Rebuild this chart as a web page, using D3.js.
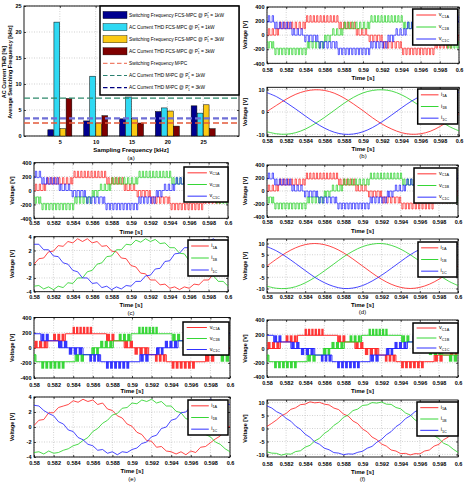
<!DOCTYPE html>
<html>
<head>
<meta charset="utf-8">
<script src="https://cdn.jsdelivr.net/npm/d3@7"></script>
<style>
  body { margin: 0; background: #fff; }
  text { font-family: "Liberation Sans", Arial, sans-serif; }
</style>
</head>
<body>
<script>
// ---------- panel (a) data ----------
const sampFreq = [5, 10, 15, 20, 25];
const swFreqFcs1kW = [1.2, 2.9, 3.3, 4.7, 5.8];
const thdFcs1kW = [21.9, 11.5, 7.5, 5.4, 4.4];
const swFreqFcs3kW = [1.4, 2.5, 3.4, 4.8, 6.0];
const thdFcs3kW = [7.2, 3.9, 2.5, 1.9, 1.4];
const refM2pc = [2.5, 7.3, 3.4];   // sw freq M2PC, THD M2PC 1kW, THD M2PC 3kW
const aYTicks = [0, 5, 10, 15, 20, 25];
const legendLabels = [
  ["Switching Frequency FCS-MPC @ ", " = 1kW"],
  ["AC Current THD FCS-MPC @ ", " = 1kW"],
  ["Switching Frequency FCS-MPC @ ", " = 3kW"],
  ["AC Current THD FCS-MPC @ ", " = 3kW"],
  ["Switching Frequency M\u00B2PC"],
  ["AC Current THD M\u00B2PC @ ", " = 1kW"],
  ["AC Current THD M\u00B2PC @ ", " = 3kW"]
];

// ---------- waveform data ----------
const timeTicks = [0.58, 0.582, 0.584, 0.586, 0.588, 0.59, 0.592, 0.594, 0.596, 0.598, 0.6];
const timeTickLabels = ["0.58", "0.582", "0.584", "0.586", "0.588", "0.59", "0.592", "0.594", "0.596", "0.598", "0.6"];
const voltTicks = [-400, -200, 0, 200, 400];
const vNames = ["C1A", "C1B", "C1C"];
const iNames = ["1A", "1B", "1C"];

const time21 = [0.58, 0.581, 0.582, 0.583, 0.584, 0.585, 0.586, 0.587, 0.588, 0.589, 0.59,
  0.591, 0.592, 0.593, 0.594, 0.595, 0.596, 0.597, 0.598, 0.599, 0.6];
const time41 = [0.58, 0.5805, 0.581, 0.5815, 0.582, 0.5825, 0.583, 0.5835, 0.584, 0.5845, 0.585,
  0.5855, 0.586, 0.5865, 0.587, 0.5875, 0.588, 0.5885, 0.589, 0.5895, 0.59,
  0.5905, 0.591, 0.5915, 0.592, 0.5925, 0.593, 0.5935, 0.594, 0.5945, 0.595,
  0.5955, 0.596, 0.5965, 0.597, 0.5975, 0.598, 0.5985, 0.599, 0.5995, 0.6];

// voltage segments: [t start, t end, level low, level high, pulse count]
const vDenseA = [[0.5800, 0.5812, 0, 92, 3], [0.5812, 0.5840, 92, 185, 7], [0.5840, 0.5875, 185, 277, 10],
  [0.5875, 0.5893, 92, 185, 5], [0.5893, 0.5905, 0, 92, 3], [0.5905, 0.5920, -92, 0, 4],
  [0.5920, 0.5940, -185, -92, 5], [0.5940, 0.5975, -277, -185, 10], [0.5975, 0.5993, -185, -92, 5],
  [0.5993, 0.6000, -92, 0, 2]];
const vDenseB = [[0.5800, 0.5807, -185, -92, 2], [0.5807, 0.5842, -277, -185, 10], [0.5842, 0.5860, -185, -92, 5],
  [0.5860, 0.5867, -92, 0, 2], [0.5867, 0.5879, 0, 92, 3], [0.5879, 0.5907, 92, 185, 7],
  [0.5907, 0.5942, 185, 277, 10], [0.5942, 0.5960, 92, 185, 5], [0.5960, 0.5972, 0, 92, 3],
  [0.5972, 0.5987, -92, 0, 4], [0.5987, 0.6000, -185, -92, 4]];
const vDenseC = [[0.5800, 0.5808, 185, 277, 2], [0.5808, 0.5826, 92, 185, 5], [0.5826, 0.5838, 0, 92, 3],
  [0.5838, 0.5853, -92, 0, 4], [0.5853, 0.5873, -185, -92, 5], [0.5873, 0.5908, -277, -185, 10],
  [0.5908, 0.5926, -185, -92, 5], [0.5926, 0.5933, -92, 0, 2], [0.5933, 0.5945, 0, 92, 3],
  [0.5945, 0.5973, 92, 185, 7], [0.5973, 0.6000, 185, 277, 8]];

const vBlockA = [[0.5800, 0.5814, 0, 92, 3], [0.5814, 0.5819, 92, 92, 0], [0.5819, 0.5832, 92, 185, 3],
  [0.5832, 0.5839, 185, 185, 0], [0.5839, 0.5860, 185, 277, 6], [0.5860, 0.5874, 185, 185, 0],
  [0.5874, 0.5883, 92, 185, 2], [0.5883, 0.5892, 92, 92, 0], [0.5892, 0.5902, 0, 92, 2],
  [0.5902, 0.5917, -92, 0, 3], [0.5917, 0.5923, -92, -92, 0], [0.5923, 0.5935, -185, -92, 3],
  [0.5935, 0.5940, -185, -185, 0], [0.5940, 0.5965, -277, -185, 6], [0.5965, 0.5975, -185, -185, 0],
  [0.5975, 0.5985, -185, -92, 2], [0.5985, 0.5992, -92, -92, 0], [0.5992, 0.6000, -92, 0, 2]];
const vBlockB = [[0.5800, 0.5802, -185, -92, 1], [0.5802, 0.5807, -185, -185, 0], [0.5807, 0.5832, -277, -185, 6],
  [0.5832, 0.5842, -185, -185, 0], [0.5842, 0.5852, -185, -92, 2], [0.5852, 0.5859, -92, -92, 0],
  [0.5859, 0.5867, -92, 0, 2], [0.5867, 0.5881, 0, 92, 3], [0.5881, 0.5886, 92, 92, 0],
  [0.5886, 0.5899, 92, 185, 3], [0.5899, 0.5906, 185, 185, 0], [0.5906, 0.5927, 185, 277, 6],
  [0.5927, 0.5941, 185, 185, 0], [0.5941, 0.5950, 92, 185, 2], [0.5950, 0.5959, 92, 92, 0],
  [0.5959, 0.5969, 0, 92, 2], [0.5969, 0.5984, -92, 0, 3], [0.5984, 0.5990, -92, -92, 0],
  [0.5990, 0.6000, -185, -92, 2]];
const vBlockC = [[0.5800, 0.5807, 185, 185, 0], [0.5807, 0.5816, 92, 185, 2], [0.5816, 0.5825, 92, 92, 0],
  [0.5825, 0.5835, 0, 92, 2], [0.5835, 0.5850, -92, 0, 3], [0.5850, 0.5856, -92, -92, 0],
  [0.5856, 0.5868, -185, -92, 3], [0.5868, 0.5873, -185, -185, 0], [0.5873, 0.5898, -277, -185, 6],
  [0.5898, 0.5908, -185, -185, 0], [0.5908, 0.5918, -185, -92, 2], [0.5918, 0.5925, -92, -92, 0],
  [0.5925, 0.5933, -92, 0, 2], [0.5933, 0.5947, 0, 92, 3], [0.5947, 0.5952, 92, 92, 0],
  [0.5952, 0.5965, 92, 185, 3], [0.5965, 0.5972, 185, 185, 0], [0.5972, 0.5993, 185, 277, 6],
  [0.5993, 0.6000, 185, 185, 0]];

// currents
const iA_b = [0.2, 3.0, 5.7, 7.9, 9.3, 9.9, 9.6, 8.4, 6.3, 3.6, 0.6, -2.6, -5.4, -7.6, -9.2, -9.9, -9.7, -8.6, -6.5, -3.8, -0.8];
const iB_b = [-8.8, -9.7, -9.9, -9.2, -7.6, -5.2, -2.4, 0.7, 3.8, 6.5, 8.5, 9.6, 9.9, 9.3, 7.7, 5.3, 2.4, -0.7, -3.8, -6.5, -8.4];
const iC_b = [8.6, 6.8, 4.2, 1.3, -1.8, -4.7, -7.2, -9.0, -9.9, -9.8, -8.8, -6.9, -4.3, -1.3, 1.8, 4.7, 7.1, 9.0, 9.9, 9.8, 8.7];

const iA_c = [0.0, 0.8, 0.9, 1.8, 1.9, 2.7, 2.6, 3.3, 3.1, 3.7, 3.3, 3.7, 3.1, 3.3, 2.6, 2.7, 1.9, 1.8, 0.9, 0.8, -0.2,
  -0.4, -1.3, -1.4, -2.3, -2.3, -3.0, -2.9, -3.5, -3.3, -3.7, -3.3, -3.5, -2.9, -3.0, -2.3, -2.3, -1.4, -1.3, -0.4, -0.2];
const iB_c = [-3.2, -3.1, -3.6, -3.3, -3.7, -3.2, -3.4, -2.7, -2.8, -2.0, -2.0, -1.1, -0.9, 0.0, 0.2, 1.1, 1.2, 2.1, 2.1, 2.9, 2.8,
  3.5, 3.2, 3.7, 3.3, 3.6, 3.0, 3.1, 2.4, 2.4, 1.6, 1.5, 0.5, 0.4, -0.6, -0.7, -1.6, -1.7, -2.5, -2.5, -3.2];
const iC_c = [2.9, 2.9, 2.1, 2.1, 1.2, 1.1, 0.2, 0.0, -0.9, -1.1, -2.0, -2.0, -2.8, -2.7, -3.4, -3.2, -3.7, -3.3, -3.6, -3.1, -3.2,
  -2.5, -2.5, -1.7, -1.6, -0.7, -0.6, 0.4, 0.5, 1.5, 1.6, 2.4, 2.4, 3.1, 3.0, 3.6, 3.3, 3.7, 3.2, 3.5, 2.8];

const iA_d = [0.0, 3.1, 5.9, 8.1, 9.5, 10.0, 9.5, 8.1, 5.9, 3.1, 0.0, -3.1, -5.9, -8.1, -9.5, -10.0, -9.5, -8.1, -5.9, -3.1, 0.0];
const iB_d = [-9.0, -9.9, -10.0, -9.2, -7.5, -5.1, -2.2, 0.9, 4.0, 6.6, 8.6, 9.7, 10.0, 9.2, 7.5, 5.0, 2.1, -1.0, -4.0, -6.7, -8.7];
const iC_d = [8.6, 6.7, 4.1, 1.1, -2.0, -5.0, -7.4, -9.1, -10.0, -9.8, -8.7, -6.7, -4.1, -1.1, 2.0, 5.0, 7.4, 9.1, 10.0, 9.8, 8.6];

const iA_e = [0.2, 0.9, 1.0, 1.9, 1.9, 2.6, 2.8, 3.0, 3.5, 3.3, 3.7, 3.4, 3.6, 3.0, 3.2, 2.4, 2.2, 1.5, 1.2, 0.4, 0.1,
  -0.7, -1.0, -1.8, -1.9, -2.7, -2.6, -3.2, -3.3, -3.6, -3.3, -3.7, -3.2, -3.4, -2.7, -2.6, -2.1, -1.6, -1.2, -0.3, 0.1];
const iB_e = [-3.4, -3.3, -3.6, -3.2, -3.5, -3.4, -3.1, -2.9, -2.5, -2.3, -1.8, -1.4, -0.6, -0.2, 0.5, 0.9, 1.6, 1.8, 2.5, 2.6, 3.2,
  3.1, 3.6, 3.4, 3.7, 3.2, 3.4, 2.8, 2.8, 2.1, 1.9, 1.1, 1.0, 0.1, -0.3, -1.0, -1.3, -2.0, -2.3, -2.9, -3.3];
const iC_e = [2.9, 2.8, 2.2, 1.8, 1.5, 0.7, 0.4, -0.4, -0.6, -1.4, -1.7, -2.3, -2.5, -3.1, -3.0, -3.5, -3.3, -3.7, -3.3, -3.4, -3.0,
  -2.8, -2.2, -2.0, -1.3, -1.1, -0.2, 0.0, 0.9, 1.1, 1.9, 2.0, 2.8, 2.7, 3.3, 3.2, 3.7, 3.3, 3.6, 3.1, 3.0];

const iA_f = [0.8, 2.0, 3.3, 4.9, 5.8, 7.4, 8.0, 9.2, 9.4, 10.3, 9.9, 10.1, 9.4, 9.1, 7.9, 7.3, 5.6, 4.8, 2.9, 1.9, -0.2,
  -1.3, -3.3, -4.3, -6.0, -6.8, -8.3, -8.7, -9.7, -9.6, -10.2, -9.7, -9.8, -8.7, -8.3, -6.8, -6.1, -4.3, -3.3, -1.3, 0.3];
const iB_f = [-9.0, -9.5, -9.6, -10.3, -9.8, -9.9, -8.9, -8.6, -7.2, -6.5, -4.8, -3.8, -1.9, -0.7, 1.2, 2.4, 4.3, 5.2, 6.9, 7.5, 8.9,
  9.1, 10.0, 9.8, 10.2, 9.4, 9.3, 8.1, 7.6, 6.0, 5.2, 3.3, 2.3, 0.3, -0.8, -2.8, -3.9, -5.7, -6.5, -8.0, -9.2];
const iC_f = [8.7, 7.9, 6.5, 5.6, 3.9, 2.8, 0.9, -0.3, -2.2, -3.4, -5.2, -6.1, -7.6, -8.2, -9.3, -9.5, -10.1, -9.8, -9.9, -9.2, -8.8,
  -7.6, -6.9, -5.3, -4.2, -2.4, -1.2, 0.7, 1.9, 3.8, 4.9, 6.5, 7.3, 8.6, 9.0, 9.8, 9.8, 10.1, 9.6, 9.5, 8.5];

// ---------- setup ----------
const W = 467, H = 486;
const svg = d3.select("body").append("svg").attr("width", W).attr("height", H);
svg.append("rect").attr("width", W).attr("height", H).attr("fill", "#fff");

const phaseColors = ["#ff1a1a", "#1fd11f", "#1a1aff"];
const tickFs = 5.5;
let clipId = 0;

function label(g, x, y, txt, fs, opts = {}) {
  const t = g.append("text").attr("x", x).attr("y", y + fs * 0.35)
    .attr("text-anchor", "middle").attr("font-size", fs)
    .attr("font-weight", opts.bold ? "bold" : "normal").text(txt);
  if (opts.rotate) t.attr("transform", `rotate(-90,${x},${y})`);
  return t;
}

// axes with inward ticks, dotted grid, frame
function axesBox(g, x, y, xt, xfmt, yt, tickY) {
  const [xa, xb] = x.range();
  const [yb, ya] = y.range();
  const grid = g.append("g").attr("stroke", "#b4b4b4").attr("stroke-width", 0.6).attr("stroke-dasharray", "1,1.5");
  grid.selectAll(null).data(xt).join("line")
    .attr("x1", d => x(d)).attr("x2", d => x(d)).attr("y1", ya).attr("y2", yb);
  grid.selectAll(null).data(yt).join("line")
    .attr("x1", xa).attr("x2", xb).attr("y1", d => y(d)).attr("y2", d => y(d));

  const bottom = g.append("g").attr("transform", `translate(0,${yb})`)
    .call(d3.axisBottom(x).tickValues(xt).tickFormat((d, i) => xfmt[i])
      .tickSizeInner(-2).tickSizeOuter(0).tickPadding(tickY - yb - tickFs * 0.36));
  const left = g.append("g").attr("transform", `translate(${xa},0)`)
    .call(d3.axisLeft(y).tickValues(yt).tickFormat(d => String(d))
      .tickSizeInner(-2).tickSizeOuter(0).tickPadding(2.5));
  const top = g.append("g").attr("transform", `translate(0,${ya})`)
    .call(d3.axisTop(x).tickValues(xt).tickFormat("").tickSizeInner(-2).tickSizeOuter(0));
  const right = g.append("g").attr("transform", `translate(${xb},0)`)
    .call(d3.axisRight(y).tickValues(yt).tickFormat("").tickSizeInner(-2).tickSizeOuter(0));
  [bottom, left, top, right].forEach(a => {
    a.select(".domain").remove();
    a.selectAll("text").attr("font-size", tickFs).attr("font-weight", "bold")
      .attr("font-family", '"Liberation Sans", Arial, sans-serif').attr("fill", "#000");
    a.selectAll("line").attr("stroke", "#000").attr("stroke-width", 0.7);
  });
  g.append("rect").attr("x", xa).attr("y", ya).attr("width", xb - xa).attr("height", yb - ya)
    .attr("fill", "none").attr("stroke", "#000").attr("stroke-width", 0.9);
}

function clipFor(g, x, y) {
  const id = "clip" + (clipId++);
  const [xa, xb] = x.range();
  const [yb, ya] = y.range();
  svg.append("clipPath").attr("id", id).append("rect")
    .attr("x", xa).attr("y", ya).attr("width", xb - xa).attr("height", yb - ya);
  return g.append("g").attr("clip-path", `url(#${id})`);
}

// ---------- panel (a) ----------
const gA = svg.append("g");
const xA = d3.scaleLinear().domain([0, 30]).range([24, 239]);
const yA = d3.scaleLinear().domain([0, 25]).range([136, 6]);
axesBox(gA, xA, yA, sampFreq, sampFreq.map(String), aYTicks, 142);

const barSeries = [swFreqFcs1kW, thdFcs1kW, swFreqFcs3kW, thdFcs3kW];
const barColors = ["#00008f", "#2fd9f3", "#fcca14", "#7f0000"];
const sub = d3.scaleBand().domain(d3.range(barSeries.length)).range([-12, 12]).paddingInner(0.06);
barSeries.forEach((s, si) => {
  gA.selectAll(null).data(s).join("rect")
    .attr("x", (d, i) => xA(sampFreq[i]) + sub(si))
    .attr("width", sub.bandwidth())
    .attr("y", d => yA(d))
    .attr("height", d => yA(0) - yA(d))
    .attr("fill", barColors[si]).attr("stroke", "#000").attr("stroke-width", 0.5);
});

const refColors = ["#e4593a", "#2f8a6c", "#6f6fd6"];
const refWidths = [1.4, 1.2, 2.2];
gA.selectAll(null).data(refM2pc).join("line")
  .attr("x1", xA(0)).attr("x2", xA(30))
  .attr("y1", d => yA(d)).attr("y2", d => yA(d))
  .attr("stroke", (d, i) => refColors[i]).attr("stroke-width", (d, i) => refWidths[i])
  .attr("stroke-dasharray", "6,3");

// legend (a)
const legA = gA.append("g");
legA.append("rect").attr("x", 100).attr("y", 6).attr("width", 139).attr("height", 89)
  .attr("fill", "#fff").attr("stroke", "#000").attr("stroke-width", 1.5);
const legSwatch = ["#00008f", "#2fd9f3", "#fcca14", "#7f0000", "#f07f6a", "#2a8070", "#000080"];
legendLabels.forEach((lab, i) => {
  const yy = 15 + i * 12.1;
  if (i < 4) {
    legA.append("rect").attr("x", 103).attr("y", yy - 3.6).attr("width", 24).attr("height", 7.2)
      .attr("fill", legSwatch[i]).attr("stroke", "#000").attr("stroke-width", 0.4);
  } else {
    legA.append("line").attr("x1", 103).attr("x2", 127).attr("y1", yy).attr("y2", yy)
      .attr("stroke", legSwatch[i]).attr("stroke-width", 1.1).attr("stroke-dasharray", "4.5,2.5");
  }
  const t = legA.append("text").attr("x", 129).attr("y", yy + 1.7).attr("font-size", 4.8);
  t.append("tspan").text(lab[0]);
  if (lab.length > 1) {
    t.append("tspan").text("P");
    t.append("tspan").attr("font-size", 3.4).attr("dy", -1.8).text("*");
    t.append("tspan").attr("font-size", 3.4).attr("dx", -1.7).attr("dy", 3.2).text("1");
    t.append("tspan").attr("dy", -1.4).text(lab[1]);
  }
});

label(gA, 4.5, 72, "AC Current THD [%]", 5.5, { bold: true, rotate: true });
label(gA, 10.5, 72, "Average Switching Frequency [kHz]", 5.5, { bold: true, rotate: true });
label(gA, 131, 150, "Sampling Frequency [kHz]", 6, { bold: true });
label(gA, 131, 158, "(a)", 6);

// ---------- waveform panels ----------
const panels = [
  { cap: "(b)", x0: 267, x1: 459, ylabX: 245, capY: 155.5,
    v: { y0: 7, y1: 63.3, tickY: 70, timeY: 78, leg: [412.7, 457.7, 9, 45] },
    i: { y0: 87.3, y1: 136.7, dom: [-11, 11], ticks: [-10, 0, 10], tickY: 141, timeY: 149, leg: [417.7, 457.7, 89, 124] },
    volt: [vDenseA, vDenseB, vDenseC], blocks: false, cur: [iA_b, iB_b, iC_b], tCur: time21, smooth: true },
  { cap: "(c)", x0: 34, x1: 228, ylabX: 12.5, capY: 313,
    v: { y0: 162.7, y1: 218.3, tickY: 223.5, timeY: 232, leg: [184, 228, 167, 202] },
    i: { y0: 236.7, y1: 291.7, dom: [-4, 4], ticks: [-4, -2, 0, 2, 4], tickY: 297, timeY: 305, leg: [188, 228, 240, 276] },
    volt: [vDenseA, vDenseB, vDenseC], blocks: false, cur: [iA_c, iB_c, iC_c], tCur: time41, smooth: false },
  { cap: "(d)", x0: 267, x1: 458, ylabX: 245, capY: 312,
    v: { y0: 165, y1: 217, tickY: 222.3, timeY: 231, leg: [414, 457, 168, 203] },
    i: { y0: 239, y1: 293, dom: [-12, 12], ticks: [-10, -5, 0, 5, 10], tickY: 297.5, timeY: 304.5, leg: [418, 457, 242, 277] },
    volt: [vDenseA, vDenseB, vDenseC], blocks: false, cur: [iA_d, iB_d, iC_d], tCur: time21, smooth: true },
  { cap: "(e)", x0: 34, x1: 230, ylabX: 12.5, capY: 479,
    v: { y0: 317.5, y1: 378, tickY: 385, timeY: 391, leg: [183, 229, 322, 355] },
    i: { y0: 397, y1: 457, dom: [-4, 4], ticks: [-4, -2, 0, 2, 4], tickY: 462.7, timeY: 471, leg: [188, 228, 400, 435] },
    volt: [vBlockA, vBlockB, vBlockC], blocks: true, cur: [iA_e, iB_e, iC_e], tCur: time41, smooth: false },
  { cap: "(f)", x0: 267, x1: 458, ylabX: 245, capY: 479,
    v: { y0: 320, y1: 377, tickY: 383, timeY: 390.7, leg: [413, 458, 323, 353] },
    i: { y0: 400, y1: 457, dom: [-11, 11], ticks: [-10, -5, 0, 5, 10], tickY: 464, timeY: 472, leg: [417, 458, 402, 436] },
    volt: [vBlockA, vBlockB, vBlockC], blocks: true, cur: [iA_f, iB_f, iC_f], tCur: time41, smooth: false }
];

function innerLevel(s) { return Math.abs(s[2]) <= Math.abs(s[3]) ? s[2] : s[3]; }
function outerLevel(s) { return Math.abs(s[2]) <= Math.abs(s[3]) ? s[3] : s[2]; }

// pulse train for one segment list (narrow pulses from the inner level outward)
function densePoints(segs) {
  const pts = [];
  segs.forEach(s => {
    const [t0, t1, , , n] = s;
    const p = (t1 - t0) / Math.max(n, 1);
    pts.push([t0, innerLevel(s)]);
    for (let k = 0; k < n; k++) {
      pts.push([t0 + (k + 0.35) * p, outerLevel(s)]);
      pts.push([t0 + (k + 0.7) * p, innerLevel(s)]);
    }
  });
  const last = segs[segs.length - 1];
  pts.push([last[1], innerLevel(last)]);
  return pts;
}
function stairPoints(segs) {
  const pts = segs.map(s => [s[0], innerLevel(s)]);
  const last = segs[segs.length - 1];
  pts.push([last[1], innerLevel(last)]);
  return pts;
}
function bursts(segs) {
  const out = [];
  segs.forEach(s => {
    const [t0, t1, lo, hi, n] = s;
    const p = (t1 - t0) / Math.max(n, 1);
    for (let k = 0; k < n; k++) out.push({ a: t0 + (k + 0.1) * p, b: t0 + (k + 0.8) * p, lo, hi });
  });
  return out;
}

function legendBox(g, box, prefix, names) {
  const [lx0, lx1, ly0, ly1] = box;
  const w = lx1 - lx0, h = ly1 - ly0;
  g.append("rect").attr("x", lx0).attr("y", ly0).attr("width", w).attr("height", h)
    .attr("fill", "#fff").attr("stroke", "#000").attr("stroke-width", 1.5);
  names.forEach((nm, i) => {
    const yy = ly0 + h * (1 + 2 * i) / 6;
    g.append("line").attr("x1", lx0 + 0.08 * w).attr("x2", lx0 + 0.52 * w)
      .attr("y1", yy).attr("y2", yy).attr("stroke", phaseColors[i]).attr("stroke-width", 0.9);
    const t = g.append("text").attr("x", lx0 + 0.58 * w).attr("y", yy + 1).attr("font-size", 5.5);
    t.append("tspan").text(prefix);
    t.append("tspan").attr("font-size", 3.8).attr("dy", 1.6).text(nm);
  });
}

panels.forEach(P => {
  const g = svg.append("g");
  const x = d3.scaleLinear().domain([0.58, 0.6]).range([P.x0, P.x1]);
  const xc = (P.x0 + P.x1) / 2;

  // voltage subplot
  const yv = d3.scaleLinear().domain([-400, 400]).range([P.v.y1, P.v.y0]);
  axesBox(g, x, yv, timeTicks, timeTickLabels, voltTicks, P.v.tickY);
  const cv = clipFor(g, x, yv);
  const stepLine = d3.line().x(d => x(d[0])).y(d => yv(d[1])).curve(d3.curveStepAfter);
  P.volt.forEach((segs, pi) => {
    if (P.blocks) {
      cv.selectAll(null).data(bursts(segs)).join("rect")
        .attr("x", d => x(d.a)).attr("width", d => x(d.b) - x(d.a))
        .attr("y", d => yv(d.hi)).attr("height", d => yv(d.lo) - yv(d.hi))
        .attr("fill", phaseColors[pi]).attr("opacity", 0.88);
      cv.append("path").attr("d", stepLine(stairPoints(segs)))
        .attr("fill", "none").attr("stroke", phaseColors[pi]).attr("stroke-width", 0.9);
    } else {
      cv.append("path").attr("d", stepLine(densePoints(segs)))
        .attr("fill", "none").attr("stroke", phaseColors[pi]).attr("stroke-width", 0.7);
    }
  });
  legendBox(g, P.v.leg, "v", vNames);
  label(g, xc, P.v.timeY, "Time [s]", 6, { bold: true });
  label(g, P.ylabX, (P.v.y0 + P.v.y1) / 2, "Voltage [V]", 5.5, { bold: true, rotate: true });

  // current subplot
  const yi = d3.scaleLinear().domain(P.i.dom).range([P.i.y1, P.i.y0]);
  axesBox(g, x, yi, timeTicks, timeTickLabels, P.i.ticks, P.i.tickY);
  const ci = clipFor(g, x, yi);
  const curLine = d3.line().x((d, k) => x(P.tCur[k])).y(d => yi(d))
    .curve(P.smooth ? d3.curveCatmullRom : d3.curveLinear);
  P.cur.forEach((s, pi) => {
    ci.append("path").attr("d", curLine(s)).attr("fill", "none")
      .attr("stroke", phaseColors[pi]).attr("stroke-width", 0.8);
  });
  legendBox(g, P.i.leg, "i", iNames);
  label(g, xc, P.i.timeY, "Time [s]", 6, { bold: true });
  label(g, P.ylabX, (P.i.y0 + P.i.y1) / 2, "Voltage [V]", 5.5, { bold: true, rotate: true });
  label(g, xc, P.capY, P.cap, 6);
});
</script>
</body>
</html>
